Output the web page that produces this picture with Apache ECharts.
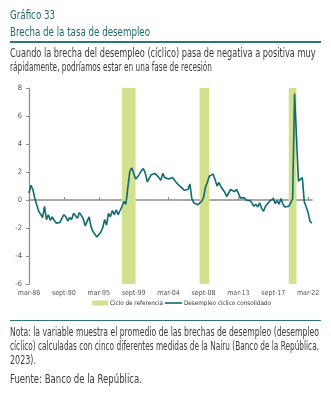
<!DOCTYPE html>
<html><head><meta charset="utf-8">
<script src="https://cdn.jsdelivr.net/npm/echarts@6/dist/echarts.min.js"></script>
<style>
html,body{margin:0;padding:0;background:#fff;}
#wrap{position:relative;width:331px;height:394px;overflow:hidden;}
#chart{position:absolute;left:0;top:0;width:331px;height:394px;}
.t{position:absolute;left:10px;white-space:nowrap;line-height:1;transform-origin:0 0;
 font-family:'Liberation Sans Narrow','DejaVu Sans Condensed','Roboto',sans-serif;font-size:11.5px;color:#3a3a3a;z-index:2;}
.h{color:#1e6a6e;font-size:12px;}
.rule{position:absolute;left:10px;width:311px;height:1.5px;background:#2b777b;z-index:2;}
</style></head>
<body><div id="wrap">
<div id="chart"></div>
<div class="t h" style="top:9.1px" data-w="45">Gráfico 33</div>
<div class="t h" style="top:25.8px" data-w="140">Brecha de la tasa de desempleo</div>
<div class="rule" style="top:41px"></div>
<div class="t" style="top:47.6px" data-w="305.5">Cuando la brecha del desempleo (cíclico) pasa de negativa a positiva muy</div>
<div class="t" style="top:61.6px" data-w="202">rápidamente, podríamos estar en una fase de recesión</div>
<div class="rule" style="top:319.5px"></div>
<div class="t" style="top:327px" data-w="309">Nota: la variable muestra el promedio de las brechas de desempleo (desempleo</div>
<div class="t" style="top:341.3px" data-w="309">cíclico) calculadas con cinco diferentes medidas de la Nairu (Banco de la República,</div>
<div class="t" style="top:355.3px" data-w="26">2023).</div>
<div class="t" style="top:374.3px" data-w="132">Fuente: Banco de la República.</div>
</div>
<script>
// Quarterly data, 1986Q1 .. 2022Q3
const quarterNames = ['mar','jun','sept','dic'];
const firstYear = 1986;
const nQuarters = 147;
const categories = [];
for (let i = 0; i < nQuarters; i++) {
  const y = firstYear + Math.floor(i / 4);
  categories.push(quarterNames[i % 4] + '-' + String(y % 100).padStart(2, '0'));
}
const tickLabels = ['mar-86','sept-90','mar-95','sept-99','mar-04','sept-08','mar-13','sept-17','mar-22'];
const desempleoCiclico = [
  0.5, 1.05, 0.75, 0.1, 0.05, -0.8, -0.7, -1.25, -0.45, -1.4,
  -1.05, -1.45, -1.2, -1.45, -1.65, -1.65, -1.6, -1.3, -1.05, -1.2,
  -1.5, -1.25, -1.4, -0.95, -0.9, -1.3, -0.9, -1.1, -1.35, -1.85,
  -1.9, -1.2, -1.9, -2.25, -2.2, -2.65, -2.7, -2.3, -2.0, -1.4,
  -1.8, -0.95, -1.2, -0.75, -1.05, -0.7, -1.05, -0.75, -0.45, -0.1,
  -0.3, 0.9, 2.05, 2.3, 2.38, 1.5, 1.65, 1.85, 2.1, 2.25,
  1.9, 1.3, 1.55, 1.8, 1.7, 1.9, 2.0, 1.6, 1.4, 1.9,
  1.6, 1.65, 1.5, 1.45, 1.6, 1.5, 1.25, 1.1, 1.05, 0.85,
  0.7, 0.65, 0.75, 1.15, 0.1, -0.2, -0.3, -0.35, -0.3, -0.1,
  0.15, 0.9, 1.25, 1.7, 1.8, 1.85, 1.45, 1.0, 1.25, 0.95,
  0.9, 0.55, 0.25, 0.5, 0.75, 0.75, 0.6, 0.75, 0.5, 0.15,
  0.2, 0.15, 0.0, 0.05, -0.05, -0.2, -0.45, -0.3, -0.5, -0.2,
  -0.6, -0.8, -0.45, -0.4, -0.1, 0.0, 0.1, -0.25, -0.05, -0.3,
  0.1, -0.3, -0.5, -0.4, -0.45, -0.2, 0.1, 7.6, 4.5, 1.35,
  1.4, 1.6, -0.1, -0.5, -0.9, -1.55, -1.65
];
const cicloInicio = ['mar-98','mar-08','sept-19'];
const cicloFin = ['dic-99','jun-09','sept-20'];
const yMin = -6, yMax = 8, yStep = 2;

const FONT = "'Liberation Sans Narrow','DejaVu Sans Condensed',sans-serif";
const TEAL = '#0f6a72';
const GREEN = '#d3e18f';
const AXIS = '#8c8c8c';

const chart = echarts.init(document.getElementById('chart'), null, {renderer:'canvas'});
chart.setOption({
  animation:false,
  backgroundColor:'#fff',
  grid:{left:29, right:19, top:88, bottom:110, containLabel:false},
  legend:[
    {data:['Ciclo de referencia'], left:92, top:300, padding:0, icon:'rect', itemWidth:16, itemHeight:5, itemGap:0,
     textStyle:{fontFamily:FONT, fontSize:6.3, color:'#333', padding:[0,0,0,-3]}},
    {data:['Desempleo cíclico consolidado'], left:165, top:300, padding:0, icon:'rect', itemWidth:17, itemHeight:1.6, itemGap:0,
     textStyle:{fontFamily:FONT, fontSize:6.3, color:'#333', padding:[0,0,0,-3]}}
  ],
  xAxis:[
    {type:'category', data:categories, boundaryGap:false, position:'bottom',
     axisLine:{show:false, onZero:false}, axisTick:{show:false},
     axisLabel:{interval:0, margin:6, fontFamily:FONT, fontSize:7, color:'#555',
       formatter:(v)=> tickLabels.includes(v) ? v : ''}},
    {type:'category', data:categories, boundaryGap:false, position:'top',
     axisLine:{show:true, onZero:true, lineStyle:{color:AXIS, width:1.6}},
     axisTick:{show:true, interval:17, length:3, lineStyle:{color:AXIS, width:1}},
     axisLabel:{show:false}}
  ],
  yAxis:{type:'value', min:yMin, max:yMax, interval:yStep,
    axisLine:{show:true, lineStyle:{color:AXIS, width:1.2}},
    axisTick:{show:true, length:3, lineStyle:{color:AXIS}},
    splitLine:{show:false},
    axisLabel:{margin:7, fontFamily:FONT, fontSize:7.5, color:'#555'}},
  series:[
    {name:'Ciclo de referencia', type:'bar', data:[], itemStyle:{color:GREEN}},
    {name:'Desempleo cíclico consolidado', type:'line', data:desempleoCiclico, xAxisIndex:0,
     symbol:'none', color:TEAL, itemStyle:{color:TEAL}, lineStyle:{color:TEAL, width:1.6}, z:3,
     markArea:{silent:true, itemStyle:{color:GREEN},
       data: cicloInicio.map((s,i)=>[{xAxis:s},{xAxis:cicloFin[i]}])}}
  ]
});

document.querySelectorAll('.t').forEach(el=>{
  const w = el.getBoundingClientRect().width;
  const target = parseFloat(el.dataset.w);
  if (w > 0) el.style.transform = 'scaleX(' + (target / w) + ')';
});
</script>
</body></html>
